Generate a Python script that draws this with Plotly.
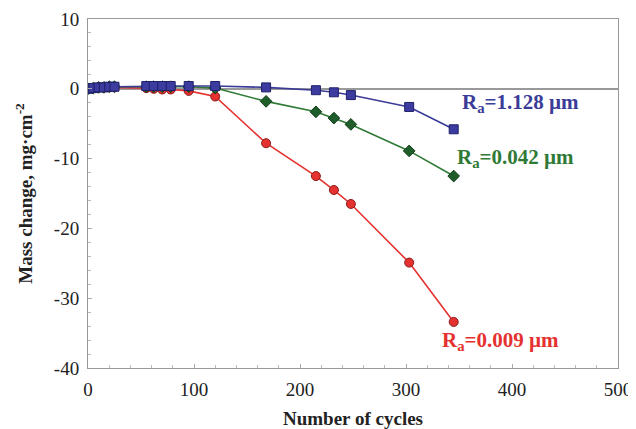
import plotly.graph_objects as go

# Ra = 1.128 um (blue squares)
x_blue = [0, 5, 10, 15, 20, 25, 55, 62, 70, 78, 95, 120, 168, 215, 232, 248, 303, 345]
y_blue = [0.0, 0.1, 0.2, 0.2, 0.3, 0.3, 0.4, 0.4, 0.4, 0.4, 0.4, 0.4, 0.2, -0.2, -0.5, -0.9, -2.6, -5.8]

# Ra = 0.042 um (green diamonds)
x_green = [0, 5, 10, 15, 20, 25, 55, 62, 70, 78, 95, 120, 168, 215, 232, 248, 303, 345]
y_green = [0.0, 0.1, 0.2, 0.2, 0.3, 0.3, 0.3, 0.3, 0.3, 0.3, 0.3, 0.1, -1.8, -3.3, -4.2, -5.1, -8.9, -12.5]

# Ra = 0.009 um (red circles)
x_red = [0, 5, 10, 15, 20, 25, 55, 62, 70, 78, 95, 120, 168, 215, 232, 248, 303, 345]
y_red = [0.0, 0.1, 0.2, 0.2, 0.2, 0.2, 0.1, 0.0, -0.1, -0.1, -0.3, -1.1, -7.8, -12.5, -14.5, -16.5, -24.9, -33.4]

labels = ["R<sub>a</sub>=1.128 µm", "R<sub>a</sub>=0.042 µm", "R<sub>a</sub>=0.009 µm"]
label_x = [351, 346, 332]
label_y = [-2.0, -9.9, -36.2]

x_ticks = [0, 100, 200, 300, 400, 500]
y_ticks = [-40, -30, -20, -10, 0, 10]
y_ticktext = ["-40", "-30", "-20", "-10", "0", "10"]

blue, green, red = "#3B3B98", "#2F7A35", "#E5312F"
font = "Liberation Serif, Times New Roman, serif"

fig = go.Figure()

fig.add_trace(go.Scatter(x=x_red, y=y_red, mode="lines+markers",
                         line=dict(color=red, width=1.6),
                         marker=dict(symbol="circle", size=9, color=red,
                                     line=dict(color="#8B1A1A", width=1))))
fig.add_trace(go.Scatter(x=x_green, y=y_green, mode="lines+markers",
                         line=dict(color=green, width=1.6),
                         marker=dict(symbol="diamond", size=9, color="#1F5E2A",
                                     line=dict(color="#123d1a", width=1))))
fig.add_trace(go.Scatter(x=x_blue, y=y_blue, mode="lines+markers",
                         line=dict(color=blue, width=1.6),
                         marker=dict(symbol="square", size=9, color="#3B3BA0",
                                     line=dict(color="#20206a", width=1))))

for t, xx, yy, c in zip(labels, label_x, label_y, [blue, green, red]):
    fig.add_annotation(x=xx, y=yy, text="<b>" + t + "</b>", showarrow=False,
                       xanchor="left", yanchor="middle",
                       font=dict(family=font, size=21, color=c))

fig.update_layout(
    width=628, height=421,
    margin=dict(l=80, r=18, t=11, b=61),
    paper_bgcolor="white", plot_bgcolor="white",
    showlegend=False,
    font=dict(family=font, size=19, color="#222"),
    xaxis=dict(range=[0, 500], tickvals=x_ticks, automargin=False,
               showgrid=False, zeroline=False,
               showline=True, linecolor="#999", linewidth=1, mirror=True,
               ticks="inside", ticklen=4, tickcolor="#aaa",
               minor=dict(dtick=20, ticks="inside", ticklen=3, tickcolor="#bbb"),
               ticklabelstandoff=4,
               title=dict(text="<b>Number of cycles</b>", font=dict(size=19, family=font), standoff=14),
               tickfont=dict(size=19, family=font)),
    yaxis=dict(range=[-40, 10], tickvals=y_ticks, ticktext=y_ticktext, automargin=False,
               showgrid=False,
               zeroline=True, zerolinecolor="#999", zerolinewidth=2,
               showline=True, linecolor="#999", linewidth=1, mirror=True,
               ticks="inside", ticklen=4, tickcolor="#aaa",
               minor=dict(dtick=2, ticks="inside", ticklen=3, tickcolor="#bbb"),
               ticklabelstandoff=4,
               title=dict(text="<b>Mass change, mg·cm<sup>-2</sup></b>", font=dict(size=19, family=font), standoff=16),
               tickfont=dict(size=19, family=font)),
)

fig.write_html("out.html")
